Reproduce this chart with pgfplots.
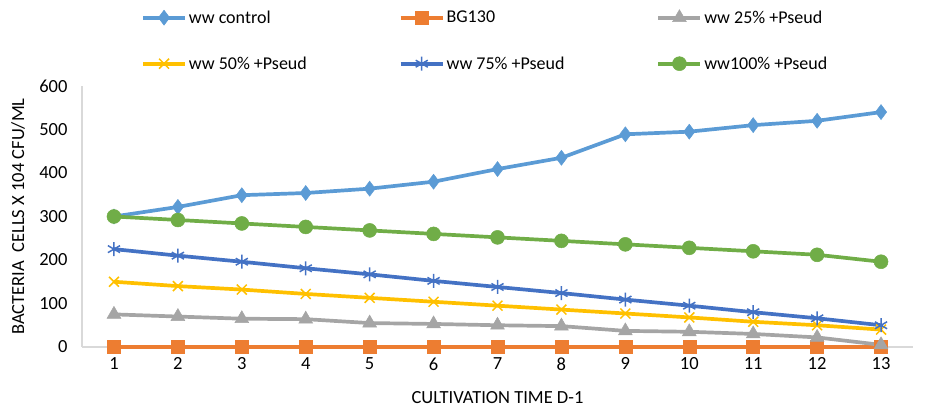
\documentclass[border=0pt]{standalone}
\usepackage{pgfplots}
\pgfplotsset{compat=1.18}
\usepackage{fontspec}
\setmainfont{Carlito}
\definecolor{cA}{HTML}{5B9BD5}
\definecolor{cB}{HTML}{ED7D31}
\definecolor{cC}{HTML}{A5A5A5}
\definecolor{cD}{HTML}{FFC000}
\definecolor{cE}{HTML}{4472C4}
\definecolor{cF}{HTML}{70AD47}
\definecolor{axgray}{HTML}{D9D9D9}
\newcommand{\legtxt}[1]{\makebox[208pt][l]{#1}}
\begin{document}
\begin{tikzpicture}[x=1pt,y=1pt]
\path[use as bounding box] (0,0) rectangle (930,410);
\begin{axis}[
  at={(82pt,63pt)}, anchor=south west,
  scale only axis, width=831pt, height=261pt,
  xmin=0.5, xmax=13.5, ymin=0, ymax=600,
  xtick={1,...,13}, ytick={0,100,...,600},
  clip=false,
  separate axis lines,
  axis x line*=bottom, axis y line*=left,
  axis line style={-, draw=axgray, line width=1.2pt},
  major tick length=0pt,
  /pgf/number format/assume math mode=true,
  tick label style={font=\fontsize{18.5}{22}\selectfont},
  yticklabel style={xshift=-11pt},
  xticklabel style={yshift=-7pt},
  xlabel={CULTIVATION TIME D-1},
  ylabel={BACTERIA\ \ CELLS X 104 CFU/ML},
  label style={font=\fontsize{18.5}{22}\selectfont},
  xlabel style={at={(axis description cs:0.5,-0.192)}, anchor=center},
  ylabel style={at={(axis description cs:-0.077,0.5)}, anchor=center},
  legend columns=3,
  legend style={at={(axis description cs:0.071,1.297)}, anchor=north west,
    draw=none, fill=none, inner sep=0pt,
    font=\fontsize{18}{21}\selectfont,
    /tikz/every even column/.append style={column sep=0pt},
    /tikz/column sep=0pt, row sep=28pt,
    nodes={inner sep=2pt}},
  legend image code/.code={\draw[mark repeat=2,mark phase=2] plot coordinates {(0pt,0pt)(21pt,0pt)(42pt,0pt)};},
  every axis plot/.append style={line width=3.7pt},
]
\addplot[color=cA, mark=diamond*, mark size=7.5pt, mark options={solid, line width=0.5pt}] coordinates {
(1,300)(2,322)(3,349)(4,354)(5,364)(6,380)(7,409)(8,435)(9,489)(10,495)(11,510)(12,520)(13,540)};
\addlegendentry{\legtxt{ww control}}
\addplot[color=cB, mark=square*, mark size=6.5pt, mark options={solid, line width=0.5pt}] coordinates {
(1,0)(2,0)(3,0)(4,0)(5,0)(6,0)(7,0)(8,0)(9,0)(10,0)(11,0)(12,0)(13,0)};
\addlegendentry{\legtxt{BG130}}
\addplot[color=cC, mark=triangle*, mark size=8pt, mark options={solid, line width=0.5pt}] coordinates {
(1,75)(2,70)(3,65)(4,64)(5,55)(6,53)(7,50)(8,48)(9,37)(10,35)(11,30)(12,22)(13,5)};
\addlegendentry{\legtxt{ww 25\% +Pseud}}
\addplot[color=cD, mark=x, mark size=7pt, mark options={solid, line width=1.5pt}] coordinates {
(1,150)(2,140)(3,132)(4,122)(5,113)(6,104)(7,95)(8,86)(9,77)(10,68)(11,58)(12,50)(13,40)};
\addlegendentry{\legtxt{ww 50\% +Pseud}}
\addplot[color=cE, mark=asterisk, mark size=7pt, mark options={solid, line width=1.5pt}] coordinates {
(1,225)(2,210)(3,196)(4,181)(5,167)(6,152)(7,138)(8,124)(9,109)(10,95)(11,80)(12,66)(13,50)};
\addlegendentry{\legtxt{ww 75\% +Pseud}}
\addplot[color=cF, mark=*, mark size=7pt, mark options={solid, line width=0.5pt}] coordinates {
(1,300)(2,292)(3,284)(4,276)(5,268)(6,260)(7,252)(8,244)(9,236)(10,228)(11,220)(12,212)(13,196)};
\addlegendentry{\legtxt{ww100\% +Pseud}}
\end{axis}
\end{tikzpicture}
\end{document}
